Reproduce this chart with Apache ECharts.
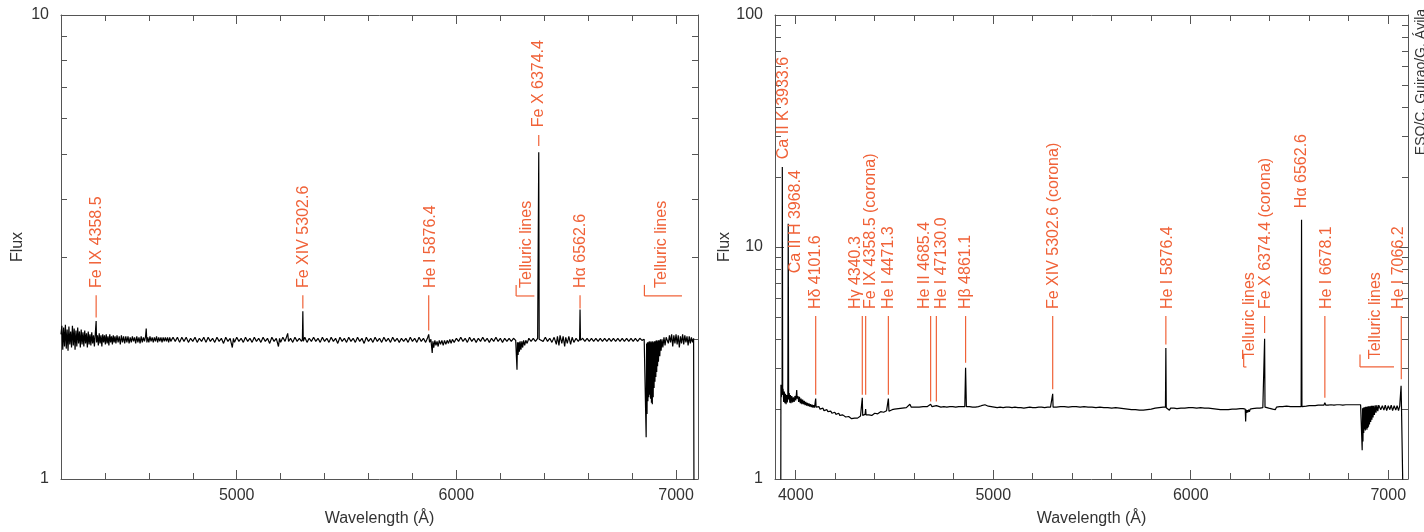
<!DOCTYPE html>
<html><head><meta charset="utf-8">
<script src="https://cdn.jsdelivr.net/npm/echarts@6/dist/echarts.min.js"></script>
<style>html,body{margin:0;padding:0;background:#fff}#c{width:1424px;height:532px}</style>
</head><body><div id="c"></div>
<script>
// ---------------- DATA ----------------
// Left panel spectrum: [wavelength (Å), flux]
const leftSpectrum = [
[4200,2.05],[4204,2.14],[4208,1.90],[4212,2.12],[4216,1.93],[4220,2.15],[4224,1.91],[4228,2.10],[4232,1.89],[4236,2.13],
[4240,1.95],[4244,2.08],[4248,1.92],[4252,2.14],[4256,1.94],[4260,2.11],[4264,1.90],[4268,2.09],[4272,1.93],[4276,2.12],
[4280,1.96],[4284,2.08],[4288,1.92],[4292,2.10],[4296,1.95],[4300,2.07],[4304,1.93],[4308,2.09],[4312,1.96],[4316,2.06],
[4320,1.92],[4324,2.08],[4328,1.95],[4332,2.05],[4336,1.94],[4340,2.07],[4344,1.96],[4348,2.04],[4352,1.93],[4356,2.05],
[4360,2.19],[4362,1.97],[4366,2.04],[4370,1.94],[4374,2.06],[4378,1.96],[4382,2.04],[4386,1.93],[4390,2.05],[4394,1.97],
[4398,2.04],[4402,1.95],[4406,2.05],[4410,1.96],[4414,2.03],[4418,1.94],[4422,2.05],[4426,1.97],[4430,2.03],[4434,1.95],
[4438,2.04],[4442,1.97],[4446,2.03],[4450,1.96],[4455,2.04],[4460,1.97],[4465,2.03],[4470,1.95],[4475,2.04],[4480,1.97],
[4485,2.03],[4490,1.96],[4495,2.03],[4500,1.97],[4505,2.03],[4510,1.96],[4515,2.02],[4520,1.97],[4525,2.03],[4530,1.98],
[4535,2.02],[4540,1.96],[4545,2.03],[4550,1.97],[4555,2.02],[4560,1.96],[4565,2.03],[4570,1.97],[4575,2.02],[4580,1.98],
[4585,2.03],[4588,2.11],[4591,1.97],[4595,2.02],[4600,1.97],[4605,2.03],[4610,1.98],[4615,2.02],[4620,1.97],[4625,2.02],
[4630,1.98],[4635,2.03],[4640,1.97],[4645,2.02],[4650,1.98],[4655,2.02],[4660,1.97],[4665,2.02],[4670,1.98],[4675,2.02],
[4680,1.98],[4685,2.02],[4690,1.97],[4695,2.02],[4700,1.98],[4710,2.02],[4720,1.98],[4730,2.02],[4740,1.97],[4750,2.02],
[4760,1.98],[4770,2.02],[4780,1.97],[4790,2.01],[4800,1.98],[4810,2.02],[4820,1.97],[4830,2.01],[4840,1.98],[4850,2.02],
[4860,1.97],[4870,2.02],[4880,1.98],[4890,2.01],[4900,1.97],[4910,2.02],[4920,1.98],[4930,2.01],[4940,1.96],[4950,2.02],
[4960,1.98],[4970,2.01],[4980,1.92],[4985,2.01],[4990,1.97],[5000,2.02],[5010,1.98],[5020,2.01],[5030,1.97],[5040,2.02],
[5050,1.98],[5060,2.01],[5070,1.97],[5080,2.02],[5090,1.98],[5100,2.01],[5110,1.97],[5120,2.02],[5130,1.98],[5140,2.01],
[5150,1.96],[5160,2.02],[5170,1.98],[5180,2.01],[5190,1.93],[5195,2.01],[5200,1.97],[5210,2.02],[5220,1.98],[5232,2.06],
[5236,1.98],[5245,2.01],[5255,1.97],[5265,2.02],[5275,1.98],[5285,2.01],[5295,1.98],[5299,2.0],[5301,2.30],[5303,1.98],
[5310,2.02],[5320,1.97],[5330,2.01],[5340,1.98],[5350,2.02],[5360,1.98],[5370,2.01],[5380,1.97],[5390,2.02],[5400,1.98],
[5410,2.01],[5420,1.97],[5430,2.02],[5440,1.98],[5450,2.01],[5460,1.96],[5470,2.02],[5480,1.98],[5490,2.01],[5500,1.97],
[5510,2.02],[5520,1.98],[5530,2.01],[5540,1.97],[5550,2.02],[5560,1.98],[5570,2.01],[5580,1.96],[5590,2.02],[5600,1.98],
[5610,2.01],[5620,1.97],[5630,2.02],[5640,1.98],[5650,2.01],[5660,1.97],[5670,2.02],[5680,1.98],[5690,2.01],[5700,1.97],
[5710,2.02],[5720,1.98],[5730,2.01],[5740,1.97],[5750,2.01],[5760,1.98],[5770,2.01],[5780,1.97],[5790,2.02],[5800,1.98],
[5810,2.01],[5820,1.97],[5830,2.02],[5840,1.98],[5850,2.01],[5860,1.97],[5868,2.01],[5874,2.05],[5878,1.97],[5884,2.00],
[5890,1.87],[5893,1.98],[5897,1.92],[5902,1.99],[5907,1.94],[5912,1.98],[5917,1.93],[5922,1.99],[5928,1.95],[5934,1.99],
[5940,1.94],[5946,1.99],[5952,1.95],[5958,1.99],[5964,1.96],[5970,2.00],[5976,1.96],[5982,2.00],[5990,1.97],[6000,2.01],
[6010,1.98],[6020,2.02],[6030,1.98],[6040,2.01],[6050,1.97],[6060,2.02],[6070,1.98],[6080,2.01],[6090,1.97],[6100,2.01],
[6110,1.98],[6120,2.02],[6130,1.98],[6140,2.01],[6150,1.97],[6160,2.01],[6170,1.98],[6180,2.02],[6190,1.98],[6200,2.01],
[6210,1.97],[6220,2.01],[6230,1.98],[6240,2.01],[6250,1.98],[6260,2.01],[6270,1.99],[6274,2.00],[6276,1.72],[6278,1.97],
[6281,1.85],[6284,1.97],[6287,1.88],[6290,1.98],[6294,1.90],[6298,1.98],[6302,1.92],[6306,1.99],[6311,1.94],[6316,1.99],
[6322,1.96],[6330,2.01],[6340,1.98],[6350,2.01],[6360,1.98],[6370,2.01],[6373,2.0],[6375,5.06],[6377,2.0],[6385,2.01],
[6395,1.98],[6405,2.02],[6415,1.98],[6425,2.01],[6435,1.97],[6445,2.02],[6455,1.95],[6460,2.03],[6467,1.94],[6472,2.04],
[6480,1.96],[6486,2.03],[6493,1.93],[6498,2.02],[6505,1.96],[6512,2.03],[6520,1.95],[6527,2.02],[6535,1.97],[6545,2.01],
[6555,1.98],[6561,2.0],[6563,2.32],[6565,1.99],[6575,2.01],[6585,1.98],[6595,2.01],[6605,1.98],[6615,2.01],[6625,1.98],
[6635,2.01],[6645,1.98],[6655,2.01],[6665,1.98],[6675,2.01],[6685,1.98],[6695,2.01],[6705,1.98],[6715,2.01],[6725,1.98],
[6735,2.01],[6745,1.98],[6755,2.01],[6765,1.98],[6775,2.01],[6785,1.98],[6795,2.01],[6805,1.98],[6815,2.01],[6825,1.98],
[6835,2.01],[6845,1.99],[6855,2.00],[6862,1.99],[6864,1.23],[6866,1.96],[6868,1.38],[6870,1.97],[6872,1.47],[6874,1.97],
[6876,1.50],[6878,1.98],[6880,1.52],[6882,1.97],[6884,1.49],[6886,1.98],[6888,1.46],[6890,1.97],[6892,1.45],[6894,1.98],
[6896,1.50],[6898,1.97],[6900,1.57],[6902,1.98],[6904,1.62],[6906,1.98],[6908,1.66],[6910,1.99],[6912,1.70],[6914,1.98],
[6916,1.75],[6918,1.99],[6920,1.79],[6923,1.99],[6926,1.84],[6929,2.00],[6932,1.89],[6936,2.00],[6940,1.92],[6945,2.02],
[6950,1.94],[6955,2.02],[6960,2.03],[6965,1.96],[6970,2.04],[6975,1.97],[6980,2.05],[6985,1.93],[6990,2.04],[6995,1.96],
[7000,2.05],[7005,1.95],[7010,2.04],[7015,1.92],[7020,2.03],[7025,1.96],[7030,2.05],[7035,1.95],[7040,2.04],[7045,1.97],
[7050,2.03],[7055,1.94],[7060,2.03],[7065,1.96],[7070,2.02],[7075,1.97],[7080,2.01],[7083,0.5],[7100,0.5]
];

// Right panel spectrum: [wavelength (Å), flux]
const rightSpectrum = [
[3924,0.5],[3925,2.55],[3927,2.25],[3929,2.45],[3931,2.30],[3932,22.1],[3934,2.35],[3936,2.45],[3939,2.15],[3942,2.38],
[3945,2.12],[3948,2.33],[3951,2.10],[3954,2.30],[3957,2.14],[3960,2.26],[3962,12.6],[3964,2.20],[3967,2.35],[3970,2.13],
[3973,2.30],[3976,2.12],[3980,2.28],[3984,2.14],[3988,2.25],[3992,2.15],[3996,2.28],[4000,2.18],[4003,2.30],[4005,2.42],
[4007,2.22],[4011,2.28],[4015,2.15],[4019,2.26],[4023,2.12],[4027,2.22],[4031,2.10],[4035,2.20],[4039,2.10],[4043,2.17],
[4047,2.08],[4051,2.15],[4055,2.07],[4059,2.13],[4063,2.06],[4067,2.12],[4071,2.05],[4075,2.10],[4079,2.04],[4083,2.09],
[4087,2.03],[4091,2.08],[4095,2.03],[4099,2.07],[4101,2.22],[4103,2.04],[4108,2.07],[4113,2.02],[4118,2.05],[4123,2.00],
[4128,2.04],[4133,1.99],[4138,2.02],[4143,1.97],[4148,2.00],[4153,1.96],[4158,1.99],[4163,1.95],[4168,1.98],[4173,1.94],
[4178,1.96],[4183,1.92],[4188,1.95],[4193,1.91],[4198,1.94],[4203,1.90],[4208,1.93],[4213,1.89],[4218,1.92],[4223,1.88],
[4228,1.90],[4233,1.87],[4238,1.89],[4243,1.86],[4248,1.88],[4253,1.85],[4258,1.87],[4263,1.84],[4268,1.86],[4273,1.83],
[4278,1.85],[4283,1.82],[4288,1.84],[4293,1.81],[4298,1.83],[4303,1.80],[4308,1.82],[4313,1.83],[4318,1.85],[4323,1.84],
[4328,1.87],[4333,1.86],[4335,1.88],[4337,2.24],[4339,1.88],[4343,1.90],[4347,1.87],[4351,1.90],[4354,2.00],[4356,1.89],
[4360,1.90],[4365,1.87],[4370,1.89],[4375,1.88],[4380,1.90],[4385,1.88],[4390,1.91],[4395,1.89],[4400,1.92],[4405,1.90],
[4410,1.93],[4415,1.91],[4420,1.94],[4425,1.92],[4430,1.95],[4435,1.93],[4440,1.96],[4445,1.94],[4450,1.97],[4455,1.95],
[4460,1.97],[4465,1.96],[4469,2.22],[4472,1.96],[4476,1.98],[4482,1.97],[4488,1.99],[4494,1.98],[4500,2.00],[4510,1.99],
[4520,2.01],[4530,2.00],[4540,2.02],[4550,2.02],[4560,2.03],[4570,2.04],[4578,2.10],[4585,2.04],[4595,2.03],[4605,2.04],
[4615,2.03],[4625,2.04],[4635,2.04],[4645,2.05],[4655,2.04],[4665,2.05],[4675,2.06],[4683,2.10],[4690,2.05],[4700,2.05],
[4712,2.07],[4720,2.05],[4735,2.04],[4750,2.05],[4765,2.04],[4780,2.05],[4795,2.05],[4810,2.04],[4825,2.05],[4840,2.05],
[4856,2.05],[4860,3.02],[4864,2.05],[4880,2.05],[4895,2.04],[4910,2.04],[4925,2.05],[4940,2.07],[4950,2.08],[4958,2.09],
[4966,2.08],[4975,2.06],[4990,2.05],[5005,2.04],[5020,2.03],[5035,2.04],[5050,2.03],[5065,2.04],[5080,2.04],[5095,2.03],
[5110,2.04],[5125,2.03],[5140,2.03],[5155,2.02],[5170,2.03],[5185,2.04],[5200,2.03],[5215,2.03],[5230,2.04],[5245,2.04],
[5260,2.03],[5275,2.04],[5290,2.04],[5299,2.04],[5301,2.33],[5303,2.04],[5320,2.04],[5340,2.05],[5360,2.05],[5380,2.04],
[5400,2.05],[5420,2.05],[5440,2.04],[5460,2.05],[5480,2.04],[5500,2.04],[5520,2.03],[5540,2.04],[5560,2.03],[5580,2.03],
[5600,2.02],[5620,2.03],[5640,2.02],[5660,2.01],[5680,2.00],[5700,1.99],[5720,1.99],[5740,1.98],[5760,1.98],[5780,1.99],
[5800,2.00],[5820,2.02],[5840,2.03],[5860,2.04],[5872,2.04],[5874,3.67],[5876,2.03],[5880,2.00],[5886,2.02],[5892,1.98],
[5898,2.02],[5905,2.00],[5915,2.02],[5930,2.01],[5950,2.02],[5970,2.02],[5990,2.03],[6010,2.03],[6030,2.02],[6050,2.03],
[6070,2.02],[6090,2.02],[6110,2.01],[6130,2.00],[6150,1.99],[6170,1.99],[6190,1.99],[6210,2.00],[6230,2.00],[6250,2.01],
[6265,2.01],[6276,2.00],[6278,1.77],[6280,1.99],[6283,1.93],[6286,1.98],[6289,1.94],[6293,1.99],[6297,1.95],[6301,2.00],
[6306,1.97],[6312,2.01],[6320,2.00],[6335,2.02],[6350,2.02],[6365,2.03],[6372,2.04],[6374,4.02],[6376,2.04],[6385,2.04],
[6395,2.02],[6405,2.05],[6415,2.00],[6420,2.04],[6428,1.99],[6434,2.04],[6440,2.00],[6450,2.05],[6458,2.01],[6465,2.05],
[6475,2.03],[6485,2.06],[6495,2.02],[6505,2.05],[6515,2.03],[6525,2.05],[6535,2.04],[6545,2.05],[6559,2.05],[6561,13.1],
[6563,2.05],[6570,2.06],[6585,2.06],[6600,2.07],[6615,2.07],[6630,2.07],[6645,2.08],[6660,2.08],[6674,2.08],[6679,2.13],
[6684,2.08],[6695,2.08],[6710,2.09],[6725,2.08],[6740,2.09],[6755,2.09],[6770,2.08],[6785,2.09],[6800,2.09],[6815,2.09],
[6830,2.09],[6845,2.09],[6860,2.09],[6866,2.09],[6868,1.33],[6870,2.02],[6872,1.45],[6874,2.03],[6876,1.58],[6878,2.04],
[6880,1.64],[6882,2.04],[6884,1.62],[6886,2.05],[6888,1.65],[6890,2.05],[6892,1.63],[6894,2.05],[6896,1.66],[6898,2.06],
[6900,1.68],[6902,2.06],[6905,1.72],[6908,2.06],[6911,1.76],[6914,2.07],[6917,1.80],[6920,2.07],[6923,1.84],[6926,2.07],
[6930,1.89],[6934,2.08],[6938,1.93],[6942,2.08],[6947,1.96],[6952,2.08],[6962,1.99],[6970,2.07],[6978,1.98],[6985,2.08],
[6992,1.97],[7000,2.07],[7008,1.99],[7015,2.08],[7022,1.97],[7030,2.07],[7038,1.98],[7045,2.07],[7052,1.97],[7058,2.06],
[7062,2.05],[7065,2.52],[7067,2.05],[7072,2.04],[7077,2.05],[7079,0.5],[7100,0.5]
];

// Tick values
const leftXLabels = [5000, 6000, 7000];
const leftXMinor = [4400, 4600, 4800, 5200, 5400, 5600, 5800, 6200, 6400, 6600, 6800];
const leftYLabels = [1, 10];
const leftYMinor = [2, 3, 4, 5, 6, 7, 8, 9];
const rightXLabels = [4000, 5000, 6000, 7000];
const rightXMinor = [4200, 4400, 4600, 4800, 5200, 5400, 5600, 5800, 6200, 6400, 6600, 6800];
const rightYLabels = [1, 10, 100];
const rightYMajor = [10];
const rightYMinor = [2, 3, 4, 5, 6, 7, 8, 9, 20, 30, 40, 50, 60, 70, 80, 90];

// Annotations, left panel (wavelengths in Å, heights in flux units)
const leftNames = ['Fe IX 4358.5', 'Fe XIV 5302.6', 'He I 5876.4', 'Telluric lines', 'Fe X 6374.4', 'Hα 6562.6', 'Telluric lines'];
const leftLineAt = [4360, 5301, 5874, 6272, 6375, 6563, 6856];
const leftTextAt = [4364, 5304, 5881, 6319, 6374, 6565, 6936];
const leftTextBase = [2.58, 2.58, 2.58, 2.58, 5.73, 2.58, 2.58];
const leftTickTop = [2.49, 2.49, 2.49, 2.62, 5.51, 2.49, 2.62];
const leftTickBottom = [2.23, 2.33, 2.09, 2.48, 5.22, 2.33, 2.48];
const leftBracketEnd = [null, null, null, 6355, null, null, 7027];

// Annotations, right panel
const rightNames = ['Ca II K 3933.6', 'Ca II H 3968.4', 'Hδ 4101.6', 'Hγ 4340.3', 'Fe IX 4358.5 (corona)', 'He I 4471.3',
  'He II 4685.4', 'He I 47130.0', 'Hβ 4861.1', 'Fe XIV 5302.6 (corona)', 'He I 5876.4', 'Telluric lines',
  'Fe X 6374.4 (corona)', 'Hα 6562.6', 'He I 6678.1', 'Telluric lines', 'He I 7066.2'];
const rightLineAt = [3932, 3962, 4101, 4337, 4354, 4469, 4683, 4712, 4860, 5301, 5874, 6268, 6374, 6561, 6679, 6857, 7066];
const rightTextAt = [3941, 4001, 4103, 4304, 4381, 4472, 4654, 4740, 4862, 5307, 5881, 6298, 6379, 6561, 6688, 6936, 7052];
const rightTextBase = [23.9, 7.7, 5.4, 5.4, 5.4, 5.4, 5.4, 5.4, 5.4, 5.4, 5.4, 3.28, 5.4, 14.7, 5.4, 3.28, 5.4];
const rightTickTop = [null, null, 5.04, 5.04, 5.04, 5.04, 5.04, 5.04, 5.04, 5.04, 5.04, 3.44, 5.04, null, 5.04, 3.44, 5.04];
const rightTickBottom = [null, null, 2.31, 2.31, 2.31, 2.31, 2.16, 2.16, 3.17, 2.44, 3.80, 3.04, 4.26, null, 2.24, 3.04, 2.69];
const rightBracketEnd = [null, null, null, null, null, null, null, null, null, null, null, 6282, null, null, null, 7029, null];

const credit = 'ESO/C. Guirao/G. Ávila';

// ---------------- STYLE ----------------
const FONT = '"Liberation Sans", Arial, Helvetica, sans-serif';
const ORANGE = '#f06238';
const AXIS = '#555';
const TXT = '#333';
const plain = v => String(v);

function xAxesFor(grid, min, max, labels, minor, nameGap) {
  const base = {gridIndex: grid, type: 'value', min: min, max: max, splitLine: {show: false}};
  return [
    Object.assign({}, base, {position: 'bottom',
      axisLine: {show: true, onZero: false, lineStyle: {color: AXIS, width: 1}},
      axisTick: {show: true, inside: true, length: 9, customValues: labels, lineStyle: {color: AXIS}},
      axisLabel: {show: true, customValues: labels, formatter: plain, fontSize: 16, color: TXT, fontFamily: FONT, margin: 9},
      name: 'Wavelength (Å)', nameLocation: 'middle', nameGap: nameGap,
      nameTextStyle: {fontSize: 16, color: TXT, fontFamily: FONT}}),
    Object.assign({}, base, {position: 'bottom',
      axisLine: {show: false, onZero: false},
      axisTick: {show: true, inside: true, length: 6, customValues: minor, lineStyle: {color: AXIS}},
      axisLabel: {show: false}}),
    Object.assign({}, base, {position: 'top',
      axisLine: {show: true, onZero: false, lineStyle: {color: AXIS, width: 1}},
      axisTick: {show: true, inside: true, length: 9, customValues: labels, lineStyle: {color: AXIS}},
      axisLabel: {show: false}}),
    Object.assign({}, base, {position: 'top',
      axisLine: {show: false, onZero: false},
      axisTick: {show: true, inside: true, length: 6, customValues: minor, lineStyle: {color: AXIS}},
      axisLabel: {show: false}})
  ];
}

function yAxis(grid, max, pos, opts) {
  return Object.assign({gridIndex: grid, type: 'log', logBase: 10, min: 1, max: max, position: pos,
    splitLine: {show: false}, axisLabel: {show: false}}, opts);
}

function annotationSeries(xi, yi, names, lineAt, textAt, textBase, tickTop, tickBottom, bracketEnd) {
  return {
    type: 'custom', xAxisIndex: xi, yAxisIndex: yi, silent: true, clip: false, z: 5, animation: false,
    data: names.map((n, i) => [lineAt[i], textBase[i], i]),
    encode: {x: 0, y: 1},
    renderItem: function (params, api) {
      const i = api.value(2);
      const children = [];
      const t = api.coord([textAt[i], textBase[i]]);
      children.push({type: 'text', x: t[0], y: t[1], rotation: Math.PI / 2,
        style: {text: names[i], fill: ORANGE, fontSize: 16, fontFamily: FONT, align: 'left', verticalAlign: 'middle'}});
      if (tickTop[i] != null) {
        const a = api.coord([lineAt[i], tickTop[i]]);
        const b = api.coord([lineAt[i], tickBottom[i]]);
        children.push({type: 'line', shape: {x1: a[0], y1: a[1], x2: b[0], y2: b[1]},
          style: {stroke: ORANGE, lineWidth: 1.2}});
        if (bracketEnd[i] != null) {
          const c = api.coord([bracketEnd[i], tickBottom[i]]);
          children.push({type: 'line', shape: {x1: b[0], y1: b[1], x2: c[0], y2: c[1]},
            style: {stroke: ORANGE, lineWidth: 1.2}});
        }
      }
      return {type: 'group', children: children};
    }
  };
}

const chart = echarts.init(document.getElementById('c'), null, {renderer: 'canvas'});
chart.setOption({
  animation: false,
  backgroundColor: '#fff',
  textStyle: {fontFamily: FONT},
  grid: [
    {left: 61, top: 15, width: 637, height: 467},
    {left: 775, top: 15, width: 633, height: 467}
  ],
  xAxis: [].concat(
    xAxesFor(0, 4200, 7100, leftXLabels, leftXMinor, 32),
    xAxesFor(1, 3895, 7100, rightXLabels, rightXMinor, 32)
  ),
  yAxis: [
    yAxis(0, 10, 'left', {
      axisLine: {show: true, onZero: false, lineStyle: {color: AXIS}},
      axisTick: {show: true, inside: true, length: 6, customValues: leftYMinor, lineStyle: {color: AXIS}},
      axisLabel: {show: true, customValues: leftYLabels, formatter: plain, fontSize: 16, color: TXT, fontFamily: FONT, margin: 12},
      name: 'Flux', nameLocation: 'middle', nameGap: 35, nameRotate: 90,
      nameTextStyle: {fontSize: 16, color: TXT, fontFamily: FONT}}),
    yAxis(0, 10, 'right', {
      axisLine: {show: true, onZero: false, lineStyle: {color: AXIS}},
      axisTick: {show: true, inside: true, length: 6, customValues: leftYMinor, lineStyle: {color: AXIS}}}),
    yAxis(1, 100, 'left', {
      axisLine: {show: true, onZero: false, lineStyle: {color: AXIS}},
      axisTick: {show: true, inside: true, length: 6, customValues: rightYMinor, lineStyle: {color: AXIS}},
      axisLabel: {show: true, customValues: rightYLabels, formatter: plain, fontSize: 16, color: TXT, fontFamily: FONT, margin: 12},
      name: 'Flux', nameLocation: 'middle', nameGap: 40, nameRotate: 90,
      nameTextStyle: {fontSize: 16, color: TXT, fontFamily: FONT}}),
    yAxis(1, 100, 'left', {
      axisLine: {show: false, onZero: false},
      axisTick: {show: true, inside: true, length: 9, customValues: rightYMajor, lineStyle: {color: AXIS}}}),
    yAxis(1, 100, 'right', {
      axisLine: {show: true, onZero: false, lineStyle: {color: AXIS}},
      axisTick: {show: true, inside: true, length: 6, customValues: rightYMinor, lineStyle: {color: AXIS}}}),
    yAxis(1, 100, 'right', {
      axisLine: {show: false, onZero: false},
      axisTick: {show: true, inside: true, length: 9, customValues: rightYMajor, lineStyle: {color: AXIS}}})
  ],
  series: [
    {type: 'line', xAxisIndex: 0, yAxisIndex: 0, data: leftSpectrum, showSymbol: false, symbol: 'none',
      clip: true, sampling: 'none', lineStyle: {color: '#000', width: 1.2}, silent: true},
    {type: 'line', xAxisIndex: 4, yAxisIndex: 2, data: rightSpectrum, showSymbol: false, symbol: 'none',
      clip: true, sampling: 'none', lineStyle: {color: '#000', width: 1.2}, silent: true},
    annotationSeries(0, 0, leftNames, leftLineAt, leftTextAt, leftTextBase, leftTickTop, leftTickBottom, leftBracketEnd),
    annotationSeries(4, 2, rightNames, rightLineAt, rightTextAt, rightTextBase, rightTickTop, rightTickBottom, rightBracketEnd)
  ],
  graphic: [
    {type: 'text', x: 1421, y: 82, rotation: Math.PI / 2,
      style: {text: credit, fill: TXT, fontSize: 14, fontFamily: FONT, align: 'center', verticalAlign: 'middle'}}
  ]
});
</script>
</body></html>
